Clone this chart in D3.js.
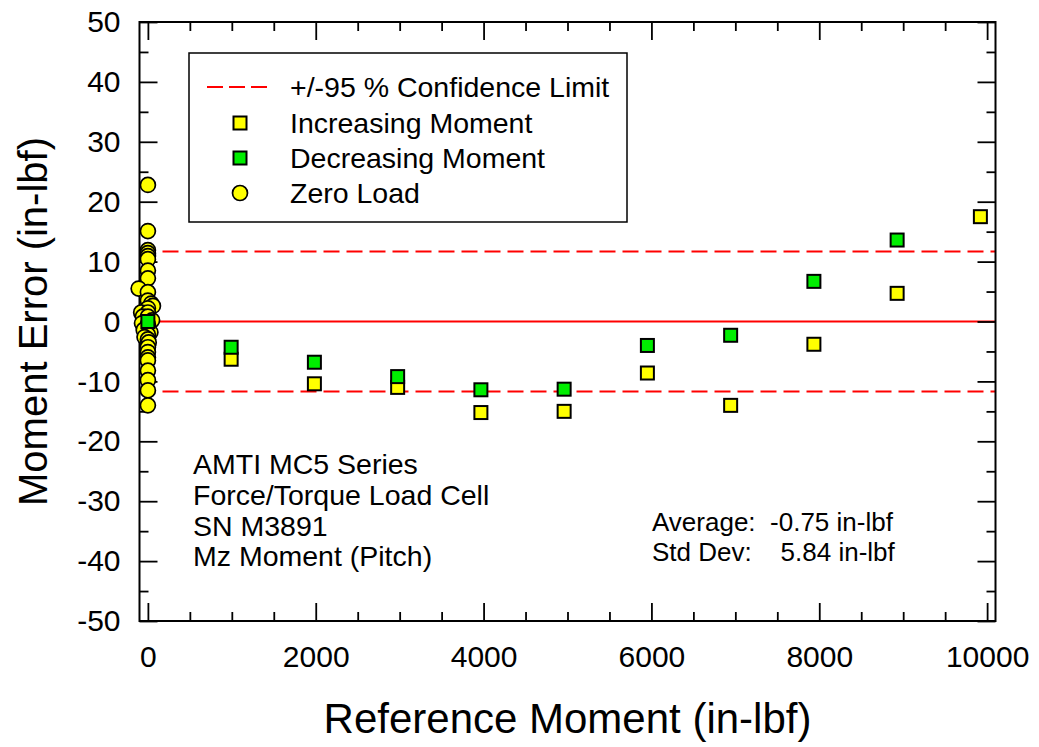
<!DOCTYPE html>
<html><head><meta charset="utf-8">
<script src="https://cdn.jsdelivr.net/npm/d3@7"></script>
<style>
body{margin:0;background:#fff}
text{font-family:"Liberation Sans",Arial,Helvetica,sans-serif;fill:#000;white-space:pre}
</style>
</head><body>
<svg id="chart" width="1039" height="747"></svg>
<script>
// ---- data ----
const incX = [992, 1984, 2976, 3968, 4960, 5952, 6944, 7936, 8928, 9920];
const incY = [-6.3, -10.4, -11.0, -15.2, -15.0, -8.6, -14.0, -3.8, 4.7, 17.5];
const decX = [0, 992, 1984, 2976, 3968, 4960, 5952, 6944, 7936, 8928];
const decY = [0, -4.3, -6.8, -9.2, -11.4, -11.3, -4.0, -2.3, 6.7, 13.6];
const zeroX = [0, 0, 0, 0, 0, 0, 0, 0, -110, 0, 0, 40, 60, 0, -80, 0, -60, 0, 50, -70, 0, 0, -50, 30, 0, -40, 0, 10, 0, 0, 0, 0, 0, 0, 0, 0];
const zeroY = [22.8, 15.1, 11.9, 11.4, 10.9, 10.4, 8.5, 7.2, 5.5, 4.9, 3.5, 3.0, 2.6, 2.2, 1.5, 1.5, 0.8, 0.8, 0.2, -0.3, -0.5, -1.0, -1.4, -1.8, -2.2, -2.6, -3.0, -3.5, -4.3, -5.1, -6.0, -6.5, -8.2, -9.8, -11.5, -14.0];
const confLimit = 11.68;
const xDomain = [-100, 10100];
const yDomain = [-50, 50];
const xMajor = [0, 2000, 4000, 6000, 8000, 10000];
const xMinor = [500, 1000, 1500, 2500, 3000, 3500, 4500, 5000, 5500, 6500, 7000, 7500, 8500, 9000, 9500];
const yMajor = [-50, -40, -30, -20, -10, 0, 10, 20, 30, 40, 50];
const yMinor = [-45, -35, -25, -15, -5, 5, 15, 25, 35, 45];
const legendLabels = ["+/-95 % Confidence Limit", "Increasing Moment", "Decreasing Moment", "Zero Load"];
const noteLines = ["AMTI MC5 Series", "Force/Torque Load Cell", "SN M3891", "Mz Moment (Pitch)"];
const statLines = ["Average:  -0.75 in-lbf", "Std Dev:    5.84 in-lbf"];

// ---- layout ----
const L = 139.5, R = 995.5, T = 22, B = 621;
const svg = d3.select("#chart");
const x = d3.scaleLinear().domain(xDomain).range([L, R]);
const y = d3.scaleLinear().domain(yDomain).range([B, T]);
const YEL = "#ffff00", GRN = "#00ee00", RED = "#ff0000";

// reference lines
const g = svg.append("g");
g.append("line").attr("x1", L).attr("x2", R).attr("y1", y(0)).attr("y2", y(0))
  .attr("stroke", RED).attr("stroke-width", 2);
[confLimit, -confLimit].forEach(v => {
  g.append("line").attr("x1", L).attr("x2", R).attr("y1", y(v)).attr("y2", y(v))
    .attr("stroke", RED).attr("stroke-width", 2).attr("stroke-dasharray", "16,7");
});

// axes
function styleAxis(sel) {
  sel.select(".domain").remove();
  sel.selectAll("line").attr("stroke", "#000").attr("stroke-width", 1.8);
  sel.selectAll("text").style("font-size", "30px").attr("fill", "#000");
}
const fmt = d => String(d);
svg.append("g").attr("transform", `translate(0,${B})`)
  .call(d3.axisBottom(x).tickValues(xMajor).tickSizeInner(-18).tickSizeOuter(0).tickPadding(25).tickFormat(fmt)).call(styleAxis);
svg.append("g").attr("transform", `translate(0,${B})`)
  .call(d3.axisBottom(x).tickValues(xMinor).tickSizeInner(-9).tickSizeOuter(0).tickFormat("")).call(styleAxis);
svg.append("g").attr("transform", `translate(0,${T})`)
  .call(d3.axisTop(x).tickValues(xMajor).tickSizeInner(-18).tickSizeOuter(0).tickFormat("")).call(styleAxis);
svg.append("g").attr("transform", `translate(0,${T})`)
  .call(d3.axisTop(x).tickValues(xMinor).tickSizeInner(-9).tickSizeOuter(0).tickFormat("")).call(styleAxis);
svg.append("g").attr("transform", `translate(${L},0)`)
  .call(d3.axisLeft(y).tickValues(yMajor).tickSizeInner(-18).tickSizeOuter(0).tickPadding(19).tickFormat(fmt)).call(styleAxis);
svg.append("g").attr("transform", `translate(${L},0)`)
  .call(d3.axisLeft(y).tickValues(yMinor).tickSizeInner(-9).tickSizeOuter(0).tickFormat("")).call(styleAxis);
svg.append("g").attr("transform", `translate(${R},0)`)
  .call(d3.axisRight(y).tickValues(yMajor).tickSizeInner(-18).tickSizeOuter(0).tickFormat("")).call(styleAxis);
svg.append("g").attr("transform", `translate(${R},0)`)
  .call(d3.axisRight(y).tickValues(yMinor).tickSizeInner(-9).tickSizeOuter(0).tickFormat("")).call(styleAxis);

svg.append("rect").attr("x", L).attr("y", T).attr("width", R - L).attr("height", B - T)
  .attr("fill", "none").attr("stroke", "#000").attr("stroke-width", 2);

// zero load circles
svg.append("g").selectAll("circle").data(d3.range(zeroY.length)).join("circle")
  .attr("cx", i => x(zeroX[i])).attr("cy", i => y(zeroY[i])).attr("r", 7.5)
  .attr("fill", YEL).attr("stroke", "#000").attr("stroke-width", 1.7);

const S = 13;
svg.append("g").selectAll("rect").data(d3.range(incX.length)).join("rect")
  .attr("x", i => x(incX[i]) - S / 2).attr("y", i => y(incY[i]) - S / 2)
  .attr("width", S).attr("height", S)
  .attr("fill", YEL).attr("stroke", "#000").attr("stroke-width", 2);
svg.append("g").selectAll("rect").data(d3.range(decX.length)).join("rect")
  .attr("x", i => x(decX[i]) - S / 2).attr("y", i => y(decY[i]) - S / 2)
  .attr("width", S).attr("height", S)
  .attr("fill", GRN).attr("stroke", "#000").attr("stroke-width", 2);

// legend
const lg = svg.append("g");
lg.append("rect").attr("x", 189).attr("y", 53).attr("width", 438).attr("height", 169)
  .attr("fill", "#fff").attr("stroke", "#000").attr("stroke-width", 1.5);
const rowY = [87, 123, 158, 193];
lg.append("line").attr("x1", 207).attr("x2", 268).attr("y1", rowY[0]).attr("y2", rowY[0])
  .attr("stroke", RED).attr("stroke-width", 2).attr("stroke-dasharray", "16,6");
lg.append("rect").attr("x", 240 - S / 2).attr("y", rowY[1] - S / 2).attr("width", S).attr("height", S)
  .attr("fill", YEL).attr("stroke", "#000").attr("stroke-width", 2);
lg.append("rect").attr("x", 240 - S / 2).attr("y", rowY[2] - S / 2).attr("width", S).attr("height", S)
  .attr("fill", GRN).attr("stroke", "#000").attr("stroke-width", 2);
lg.append("circle").attr("cx", 240).attr("cy", rowY[3]).attr("r", 7.5)
  .attr("fill", YEL).attr("stroke", "#000").attr("stroke-width", 1.7);
lg.selectAll("text.lab").data(legendLabels).join("text").attr("class", "lab")
  .attr("x", 290).attr("y", (d, i) => rowY[i] + 10).style("font-size", "28.5px").text(d => d);

// notes
svg.append("g").selectAll("text").data(noteLines).join("text")
  .attr("x", 193).attr("y", (d, i) => 474 + i * 30.8).style("font-size", "28.5px").text(d => d);

svg.append("g").selectAll("text").data(statLines).join("text")
  .attr("x", 652).attr("y", (d, i) => 531 + i * 30).attr("xml:space", "preserve")
  .style("font-size", "26px").text(d => d);

// axis titles
svg.append("text").attr("x", (L + R) / 2).attr("y", 733).attr("text-anchor", "middle")
  .style("font-size", "42px").text("Reference Moment (in-lbf)");
svg.append("text").attr("transform", `translate(47,${(T + B) / 2}) rotate(-90)`).attr("text-anchor", "middle")
  .style("font-size", "40px").text("Moment Error (in-lbf)");
</script>
</body></html>
